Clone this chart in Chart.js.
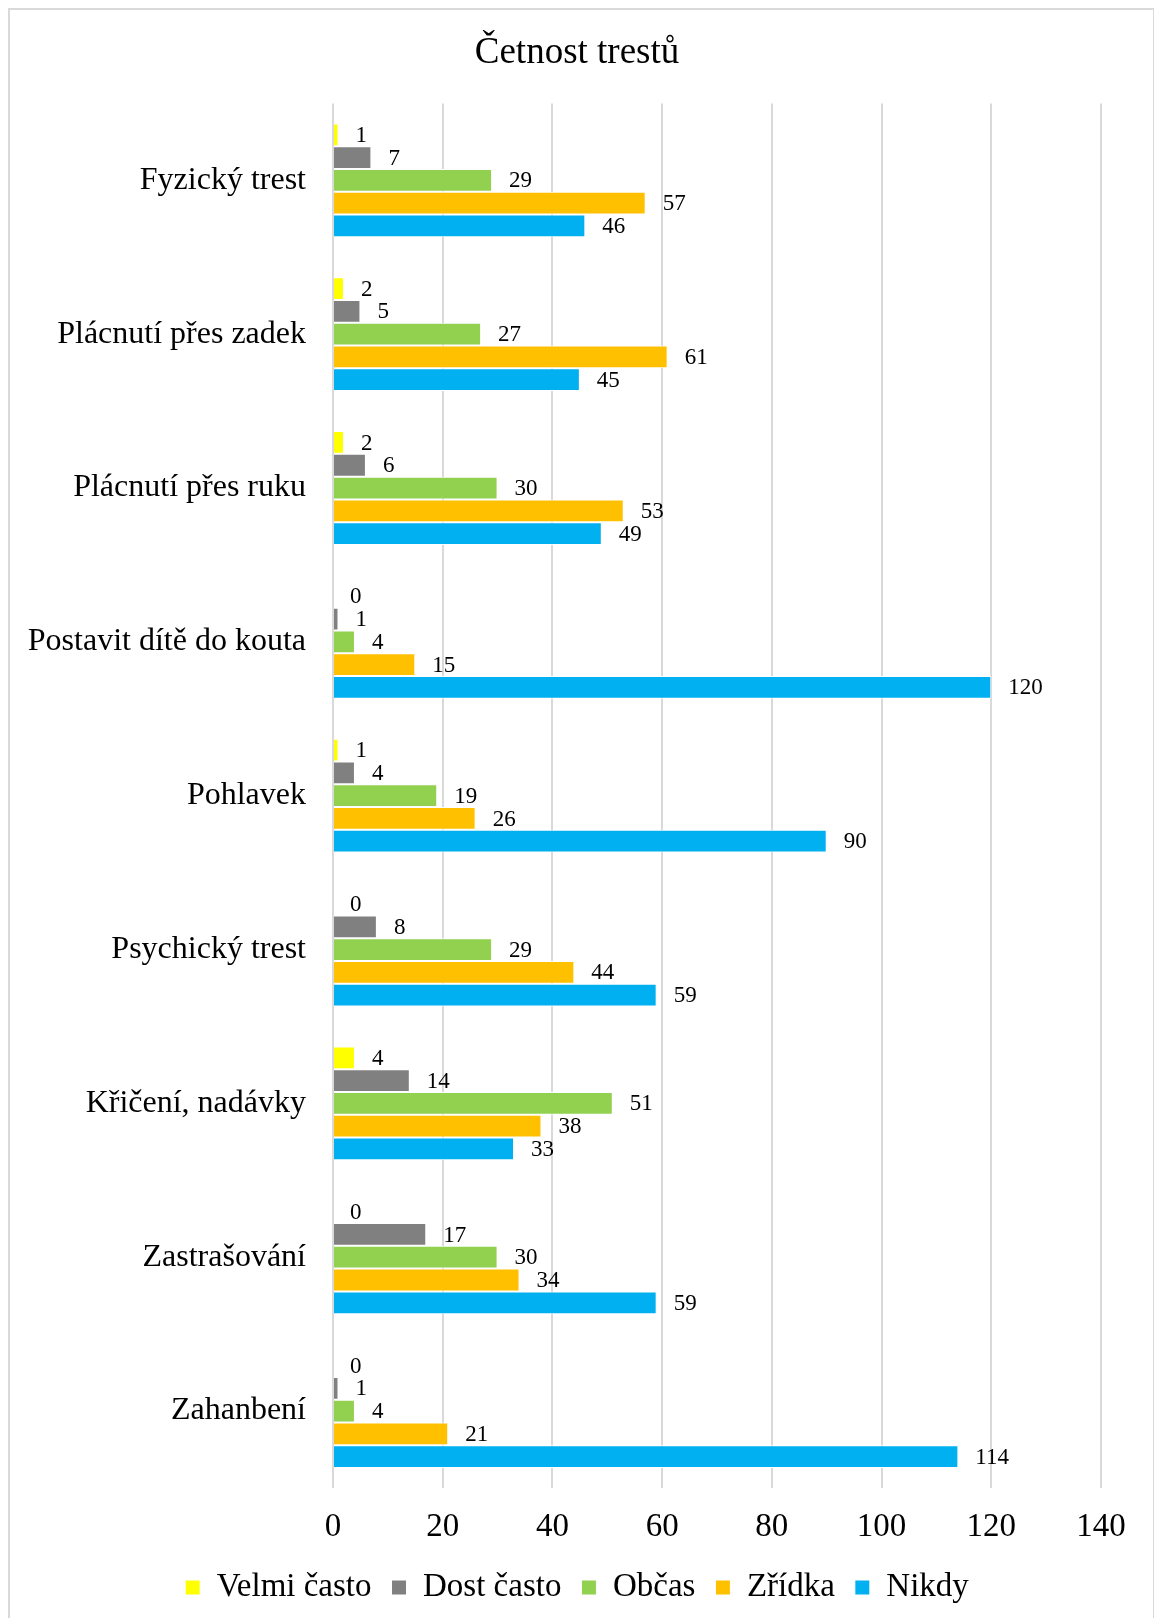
<!DOCTYPE html>
<html lang="cs">
<head>
  <meta charset="UTF-8" />
  <title>Četnost trestů</title>
  <script src="https://cdn.jsdelivr.net/npm/chart.js"></script>
  <style>
    html, body { margin: 0; padding: 0; background: #fff; }
    body { width: 1154px; height: 1618px; position: relative; overflow: hidden; }
    .frame { position: absolute; left: 8px; top: 8px; width: 1143px; height: 1630px;
             border: 2px solid #d9d9d9; border-bottom: none; }
    .wrap { position: absolute; left: 0; top: 0; width: 1154px; height: 1618px; }
  </style>
</head>
<body>
  <div class="frame"></div>
  <div class="wrap"><canvas id="chart"></canvas></div>

  <script>
    const categories = ['Fyzický trest', 'Plácnutí přes zadek', 'Plácnutí přes ruku', 'Postavit dítě do kouta',
      'Pohlavek', 'Psychický trest', 'Křičení, nadávky', 'Zastrašování', 'Zahanbení'];
    const velmiCasto = [1, 2, 2, 0, 1, 0, 4, 0, 0];
    const dostCasto = [7, 5, 6, 1, 4, 8, 14, 17, 1];
    const obcas = [29, 27, 30, 4, 19, 29, 51, 30, 4];
    const zridka = [57, 61, 53, 15, 26, 44, 38, 34, 21];
    const nikdy = [46, 45, 49, 120, 90, 59, 33, 59, 114];
    const xTicks = [0, 20, 40, 60, 80, 100, 120, 140];

    const serif = "'Liberation Serif', 'Times New Roman', serif";
    Chart.defaults.font.family = serif;
    Chart.defaults.color = '#000';

    // popisky hodnot vpravo od sloupců
    const valueLabels = {
      id: 'valueLabels',
      afterDatasetsDraw(chart) {
        const ctx = chart.ctx;
        ctx.save();
        ctx.font = '23px ' + serif;
        ctx.fillStyle = '#000';
        ctx.textAlign = 'left';
        ctx.textBaseline = 'middle';
        chart.data.datasets.forEach((ds, i) => {
          chart.getDatasetMeta(i).data.forEach((bar, j) => {
            ctx.fillText(String(ds.data[j]), bar.x + 17, bar.y + 1);
          });
        });
        ctx.restore();
      }
    };

    new Chart(document.getElementById('chart'), {
      type: 'bar',
      data: {
        labels: categories,
        datasets: [
          { label: 'Velmi často', data: velmiCasto, backgroundColor: '#FFFF00' },
          { label: 'Dost často', data: dostCasto, backgroundColor: '#808080' },
          { label: 'Občas', data: obcas, backgroundColor: '#92D050' },
          { label: 'Zřídka', data: zridka, backgroundColor: '#FFC000' },
          { label: 'Nikdy', data: nikdy, backgroundColor: '#00B0F0' }
        ].map(d => Object.assign(d, { borderColor: '#fff', borderWidth: 1, borderSkipped: 'start',
          categoryPercentage: 0.74, barPercentage: 1 }))
      },
      options: {
        indexAxis: 'y',
        responsive: true,
        maintainAspectRatio: false,
        animation: false,
        layout: { padding: { left: 0, right: 0, top: 0, bottom: 4 } },
        scales: {
          x: {
            min: 0, max: 140,
            afterBuildTicks: s => { s.ticks = xTicks.map(v => ({ value: v })); },
            grid: { color: '#d9d9d9', lineWidth: 2, drawTicks: false },
            border: { display: false },
            ticks: { color: '#000', font: { family: serif, size: 33 }, padding: 20 },
            afterFit: s => { s.height = 63; }
          },
          y: {
            grid: { display: false },
            border: { display: false },
            ticks: { color: '#000', font: { family: serif, size: 32 }, padding: 19 },
            afterFit: s => { s.width = 333; }
          },
          // prázdná osa vpravo, jen drží volné místo za mřížkou
          yRight: {
            type: 'category',
            position: 'right',
            grid: { display: false },
            border: { display: false },
            ticks: { display: false },
            afterFit: s => { s.width = 53; }
          }
        },
        plugins: {
          title: {
            display: true,
            text: 'Četnost trestů',
            color: '#000',
            font: { family: serif, size: 37, weight: 'normal' },
            padding: { top: 31, bottom: 28 }
          },
          legend: {
            position: 'bottom',
            labels: {
              color: '#000',
              font: { family: serif, size: 33 },
              boxWidth: 15, boxHeight: 15,
              padding: 20
            }
          },
          tooltip: { enabled: false }
        }
      },
      plugins: [valueLabels]
    });
  </script>
</body>
</html>
